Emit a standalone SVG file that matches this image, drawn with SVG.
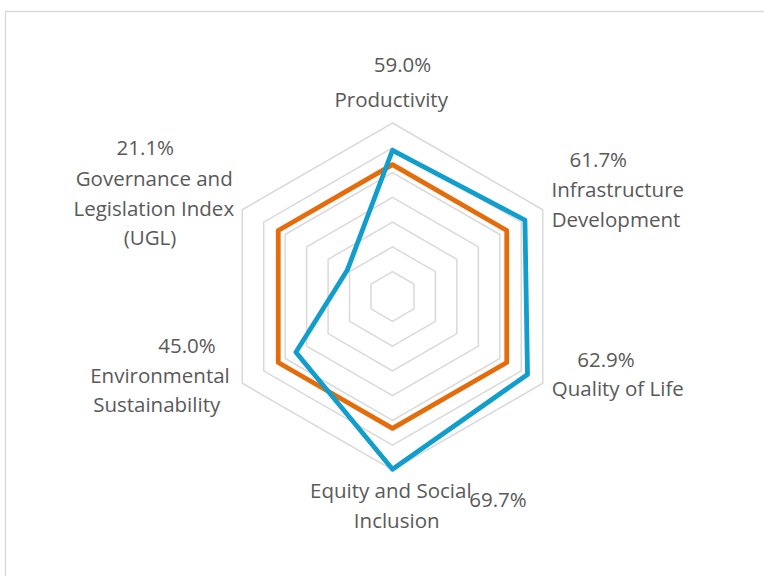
<svg xmlns="http://www.w3.org/2000/svg" width="764" height="576" viewBox="0 0 764 576">
<style>
.ring{fill:none;stroke:#D9D9D9;stroke-width:1.5}
.lbl{font-family:"Open Sans","Liberation Sans",sans-serif;font-size:20.5px;fill:#595959;text-anchor:middle}
.ser{fill:none;stroke-width:4.8;stroke-linejoin:round}
</style>
<rect x="0" y="0" width="764" height="576" fill="#FFFFFF"/>
<path d="M5.5,576 V11.5 H764" fill="none" stroke="#D9D9D9" stroke-width="1.3"/>
<g id="grid">
<polygon class="ring" points="392.5,271.71 413.97,284.11 413.97,308.89 392.5,321.29 371.04,308.89 371.04,284.11"/>
<polygon class="ring" points="392.5,246.93 435.43,271.71 435.43,321.29 392.5,346.07 349.57,321.29 349.57,271.71"/>
<polygon class="ring" points="392.5,222.14 456.90,259.32 456.90,333.68 392.5,370.86 328.11,333.68 328.11,259.32"/>
<polygon class="ring" points="392.5,197.36 478.36,246.93 478.36,346.07 392.5,395.64 306.64,346.07 306.64,246.93"/>
<polygon class="ring" points="392.5,172.57 499.83,234.54 499.83,358.46 392.5,420.43 285.18,358.46 285.18,234.54"/>
<polygon class="ring" points="392.5,147.79 521.29,222.14 521.29,370.86 392.5,445.21 263.71,370.86 263.71,222.14"/>
<polygon class="ring" points="392.5,123.0 542.76,209.75 542.76,383.25 392.5,470.0 242.25,383.25 242.25,209.75"/>
</g>
<g id="connectors">
<polygon id="series-average" class="ser" stroke="#E46C0A" points="392.5,164.56 506.76,230.53 506.76,362.47 392.5,428.44 278.24,362.47 278.24,230.53"/>
<polygon id="series-values" class="ser" stroke="#129ECC" points="392.5,150.26 524.94,220.04 527.52,374.45 392.5,469.26 295.91,352.27 347.21,270.35"/>
</g>
<g id="node-productivity">
<text class="lbl" x="402.5" y="71.7">59.0%</text>
<text class="lbl" x="391.2" y="106.7">Productivity</text>
</g>
<g id="node-infrastructure">
<text class="lbl" x="598.3" y="166.7">61.7%</text>
<text class="lbl" x="617.8" y="196.7">Infrastructure</text>
<text class="lbl" x="616" y="226.5">Development</text>
</g>
<g id="node-quality">
<text class="lbl" x="606" y="366.7">62.9%</text>
<text class="lbl" x="617.8" y="396">Quality of Life</text>
</g>
<g id="node-equity">
<text class="lbl" x="390.8" y="498">Equity and Social</text>
<text class="lbl" x="396.7" y="528.3">Inclusion</text>
<text class="lbl" x="498" y="506.7">69.7%</text>
</g>
<g id="node-environmental">
<text class="lbl" x="187" y="353.3">45.0%</text>
<text class="lbl" x="160" y="383.3">Environmental</text>
<text class="lbl" x="156.7" y="411.7">Sustainability</text>
</g>
<g id="node-governance">
<text class="lbl" x="145.3" y="155">21.1%</text>
<text class="lbl" x="154.2" y="185.5">Governance and</text>
<text class="lbl" x="153.8" y="215.5">Legislation Index</text>
<text class="lbl" x="150" y="245">(UGL)</text>
</g>
</svg>
